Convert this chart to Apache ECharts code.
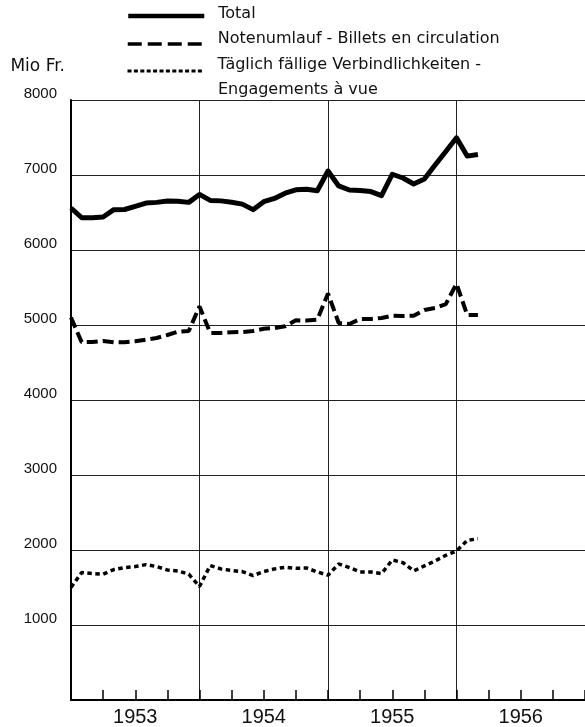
<!DOCTYPE html>
<html>
<head>
<meta charset="utf-8">
<script src="https://cdn.jsdelivr.net/npm/echarts@6/dist/echarts.min.js"></script>
<style>
  html, body { margin: 0; padding: 0; background: #fff; }
  #chart { width: 585px; height: 727px; }
</style>
</head>
<body>
<div id="chart"></div>
<script>
// month-end positions, Dec 1952 .. Dec 1956
const years = [1953, 1954, 1955, 1956]
const monthNames = ['Jan', 'Feb', 'Mär', 'Apr', 'Mai', 'Jun', 'Jul', 'Aug', 'Sep', 'Okt', 'Nov', 'Dez']
const categories = ['Dez 1952'].concat(...years.map(y => monthNames.map(m => m + ' ' + y)))

// Mio Fr., month ends from Dec 1952 to Feb 1956
const total = [6560, 6430, 6430, 6440, 6538, 6540, 6582, 6626, 6635, 6652, 6650, 6635,
  6741, 6661, 6655, 6637, 6612, 6538, 6644, 6688, 6758, 6803, 6810, 6790,
  7053, 6854, 6800, 6792, 6779, 6725, 7010, 6960, 6880, 6947, 7133, 7314,
  7496, 7252, 7274]
const notes = [5100, 4770, 4774, 4788, 4770, 4770, 4783, 4805, 4827, 4867, 4911, 4920,
  5248, 4894, 4894, 4903, 4907, 4920, 4951, 4960, 4982, 5062, 5060, 5071,
  5420, 5027, 5013, 5080, 5080, 5093, 5124, 5120, 5124, 5200, 5226, 5279,
  5550, 5133, 5133]
const deposits = [1500, 1699, 1686, 1677, 1739, 1765, 1779, 1805, 1779, 1734, 1721, 1677,
  1513, 1792, 1748, 1726, 1712, 1659, 1712, 1748, 1770, 1757, 1760, 1708,
  1664, 1814, 1765, 1708, 1708, 1686, 1867, 1832, 1721, 1788, 1854, 1929,
  1987, 2128, 2150]

const seriesNames = [
  'Total',
  'Notenumlauf - Billets en circulation',
  'Täglich fällige Verbindlichkeiten -'
]
const legendSecondLine = 'Engagements à vue'

const wideFont = '"DejaVu Sans", Verdana, sans-serif'
const font = '"Liberation Sans", Arial, Helvetica, sans-serif'
const ink = '#111'

const myChart = echarts.init(document.getElementById('chart'))

// one legend per row so every row gets its own offsets
const legendRow = (name, top, bottomPad, lineStyle) => ({
  orient: 'vertical',
  left: 126,
  top: top,
  padding: 0,
  itemWidth: 76,
  itemHeight: 14,
  selectedMode: false,
  data: [name],
  itemStyle: { opacity: 0 },
  lineStyle: Object.assign({ color: '#000' }, lineStyle),
  formatter: (n) => '{t|' + n + '}',
  textStyle: {
    color: ink,
    rich: {
      t: { fontFamily: wideFont, fontSize: 16, lineHeight: 20, color: ink, padding: [0, 0, bottomPad, 9] }
    }
  }
})

const options = {
  animation: false,
  backgroundColor: '#fff',
  title: {
    text: legendSecondLine,
    left: 218,
    top: 80,
    padding: 0,
    textStyle: { fontFamily: wideFont, fontSize: 16, fontWeight: 'normal', color: ink, lineHeight: 20 }
  },
  legend: [
    legendRow(seriesNames[0], 6, 4, { width: 4.5 }),
    legendRow(seriesNames[1], 31, 10, { width: 3.5, type: [14, 6] }),
    legendRow(seriesNames[2], 57, 12, { width: 3, type: [4, 2.4] })
  ],
  grid: {
    top: 100,
    left: 71,
    right: 0,
    bottom: 26,
    containLabel: false
  },
  xAxis: {
    type: 'category',
    data: categories,
    boundaryGap: false,
    axisLine: { show: true, lineStyle: { color: '#000', width: 2 } },
    axisTick: {
      show: true,
      inside: true,
      length: 10,
      interval: (i) => i % 3 === 0,
      lineStyle: { color: '#000', width: 1.5 }
    },
    axisLabel: {
      interval: (i) => i % 12 === 6,
      formatter: (v) => v.split(' ')[1],
      fontFamily: font,
      fontSize: 20,
      color: ink,
      margin: 7
    },
    splitLine: {
      show: true,
      interval: (i) => i % 12 === 0,
      lineStyle: { color: '#222', width: 1 }
    }
  },
  yAxis: {
    type: 'value',
    min: 0,
    max: 8000,
    interval: 1000,
    name: 'Mio Fr.',
    nameLocation: 'end',
    nameGap: 33,
    nameTextStyle: {
      fontFamily: wideFont,
      fontSize: 17,
      color: ink,
      align: 'right',
      verticalAlign: 'middle',
      padding: [0, 6, 0, 0]
    },
    axisLine: { show: true, lineStyle: { color: '#000', width: 2 } },
    axisTick: { show: false },
    axisLabel: {
      formatter: (v) => (v === 0 ? '' : String(v)),
      fontFamily: font,
      fontSize: 15,
      color: ink,
      margin: 14,
      lineHeight: 13,
      verticalAlign: 'bottom'
    },
    splitLine: { show: true, lineStyle: { color: '#222', width: 1 } }
  },
  series: [
    {
      name: seriesNames[0],
      type: 'line',
      data: total,
      symbol: 'none',
      lineStyle: { color: '#000', width: 5, join: 'round' },
      itemStyle: { color: '#000' }
    },
    {
      name: seriesNames[1],
      type: 'line',
      data: notes,
      symbol: 'none',
      lineStyle: { color: '#000', width: 4, type: [11, 5] },
      itemStyle: { color: '#000' }
    },
    {
      name: seriesNames[2],
      type: 'line',
      data: deposits,
      symbol: 'none',
      lineStyle: { color: '#000', width: 3.5, type: [4.5, 3.5] },
      itemStyle: { color: '#000' }
    }
  ]
}

myChart.setOption(options)
</script>
</body>
</html>
